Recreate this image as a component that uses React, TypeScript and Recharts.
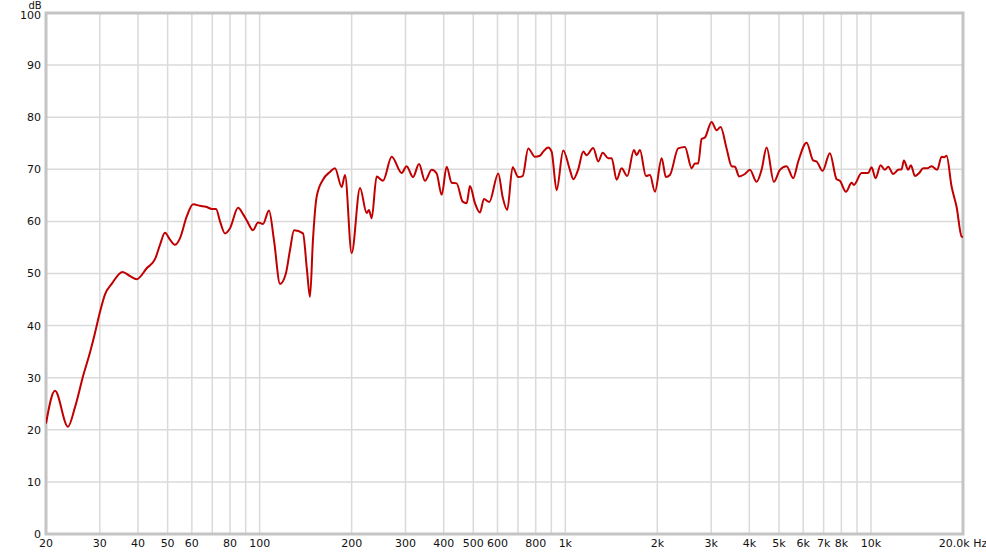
import React from 'react'
import { LineChart, Line, XAxis, YAxis, CartesianGrid, ReferenceArea } from 'recharts'

// frequency (Hz) and level (dB)
const freqs = [
    20, 21.4, 23.6, 24.9, 26.5, 27.9, 28.9, 30, 31.2, 32.8,
    35.6, 37.7, 39.6, 42.7, 45.5, 47.2, 49, 50.9, 52.8, 54.9,
    57.7, 60.6, 63.8, 66.7, 69.8, 72, 74.2, 77, 80, 85,
    88.2, 90.9, 95.1, 98.8, 102.5, 107.3, 111.4, 116.6, 121.7, 125.7,
    129.6, 138.6, 142.8, 146.1, 149.4, 153.6, 161.1, 169.8, 176.4, 185.5,
    190.2, 200, 213, 224, 227.8, 232.5, 241.4, 253.2, 270.4, 291.6,
    302.6, 317.4, 332.2, 347.4, 365.4, 379.4, 394, 409, 424.8, 441,
    461.4, 475.6, 487.6, 506.2, 525.6, 541.8, 563.8, 603.4, 623.6, 645.6,
    672.4, 701.4, 725, 756.2, 795.4, 825.8, 846.6, 879.2, 902, 936.6,
    984.4, 1035, 1062, 1102, 1145, 1174, 1234, 1282, 1325, 1382,
    1418, 1472, 1528, 1594, 1677, 1711, 1754, 1836, 1892, 1964,
    2066, 2134, 2199, 2340, 2462, 2590, 2654, 2720, 2792, 2862,
    3010, 3126, 3221, 3370, 3500, 3588, 3706, 3868, 4016, 4226,
    4386, 4556, 4812, 5036, 5296, 5566, 5780, 6156, 6472, 6638,
    6946, 7336, 7718, 7912, 8280, 8642, 8794, 9318, 9790, 10046,
    10352, 10750, 11104, 11384, 11820, 12276, 12594, 12814, 13236, 13508,
    13922, 14378, 14820, 15272, 15788, 16466, 17022, 17358, 17672, 18352,
    19054, 19790, 20000,
]

const levels = [
    21.2, 27.5, 20.6, 24.4, 30.5, 35, 38.5, 42.5, 46, 48,
    50.3, 49.5, 48.9, 51, 52.8, 55.5, 57.8, 56.5, 55.5, 56.8,
    60.9, 63.3, 63, 62.8, 62.4, 62.4, 60, 57.7, 58.7, 62.6,
    61.4, 60.1, 58.3, 59.8, 59.5, 62.1, 56.4, 48, 49.9, 54.5,
    58.3, 57.7, 50.7, 45.5, 56.4, 64.7, 68, 69.5, 70.2, 66.6,
    68.9, 53.9, 66.4, 61.6, 62.2, 60.6, 68.6, 67.8, 72.4, 69.3,
    70.6, 68.5, 71, 67.8, 69.9, 69.2, 65.1, 70.5, 67.4, 67.3,
    63.8, 63.5, 66.8, 63.5, 61.7, 64.3, 63.7, 69.2, 64.7, 62.2,
    70.4, 68.5, 68.7, 74, 72.4, 72.6, 73.4, 74.2, 73.4, 66,
    73.6, 69.9, 68.1, 70, 73.4, 72.7, 74.1, 71.5, 73.2, 72.1,
    72.1, 68, 70.2, 68.7, 73.7, 72.7, 73.7, 68.7, 68.9, 65.7,
    72.1, 68.5, 68.9, 74, 74.3, 70.2, 71.1, 71.1, 75.8, 76.1,
    79.1, 77.5, 78.1, 74, 70.6, 70.5, 68.6, 69.1, 69.9, 67.6,
    69.9, 74.2, 67.6, 69.9, 70.6, 68.3, 71.5, 75.1, 71.7, 71.5,
    69.7, 73.1, 68.1, 67.8, 65.7, 67.4, 67, 69.3, 69.3, 70.4,
    68.3, 70.8, 69.9, 70.5, 69.1, 69.9, 70, 71.7, 69.9, 70.8,
    68.7, 69.3, 70.2, 70.2, 70.6, 69.9, 72.4, 72.3, 72.6, 66.7,
    62.8, 57.1, 57,
]

const xTicks = [
    20, 30, 40, 50, 60, 70, 80, 90, 100,
    200, 300, 400, 500, 600, 700, 800, 900, 1000,
    2000, 3000, 4000, 5000, 6000, 7000, 8000, 9000, 10000, 20000,
]
const unlabelled = [70, 90, 700, 900, 9000]
const yTicks = [0, 10, 20, 30, 40, 50, 60, 70, 80, 90, 100]

const data = freqs.map((f, i) => ({ f, db: levels[i] }))

const fmtFreq = (v: number) => {
    if (unlabelled.includes(v)) return ''
    if (v === 20000) return '20.0k Hz'
    if (v >= 1000) return v / 1000 + 'k'
    return String(v)
}

const font = 'DejaVu Sans, sans-serif'
const tickStyle = { fontSize: 11, fill: '#111', fontFamily: font }

// y labels; the top one sits a little below its gridline, under the "dB" unit
const YTick = (props: any) => {
    const { x, y, payload } = props
    const shift = payload.value === 100 ? 2 : 0
    return (
        <text x={x} y={y + shift} dy="0.355em" textAnchor="end" fontSize={11} fill="#111" fontFamily={font}>
            {payload.value}
        </text>
    )
}

const App: React.FC = () => {
    return (
        <div style={{ position: 'absolute', left: 0, top: 0, width: 986, height: 554, background: '#fff' }}>
            <LineChart width={986} height={554} data={data} margin={{ top: 13, right: 23, bottom: 0, left: 0 }}>
                <CartesianGrid stroke="#dadada" strokeWidth={1.5} />
                <XAxis
                    dataKey="f"
                    type="number"
                    scale="log"
                    domain={[20, 20000]}
                    ticks={xTicks}
                    interval={0}
                    allowDataOverflow
                    tickFormatter={fmtFreq}
                    tick={tickStyle}
                    tickLine={false}
                    axisLine={false}
                    tickSize={0}
                    tickMargin={5}
                    height={20}
                />
                <YAxis
                    type="number"
                    domain={[0, 100]}
                    ticks={yTicks}
                    interval={0}
                    tick={<YTick />}
                    tickLine={false}
                    axisLine={false}
                    tickSize={0}
                    tickMargin={5}
                    width={46}
                    label={{ value: 'dB', position: 'top', offset: 4.5, dx: 12, fontSize: 10, fill: '#111', fontFamily: font }}
                />
                <ReferenceArea x1={20} x2={20000} y1={0} y2={100} fill="none" stroke="#c4c4c4" strokeWidth={3} />
                <Line
                    type="monotone"
                    dataKey="db"
                    stroke="#c00000"
                    strokeWidth={2}
                    dot={false}
                    activeDot={false}
                    isAnimationActive={false}
                />
            </LineChart>
        </div>
    )
}

export default App
